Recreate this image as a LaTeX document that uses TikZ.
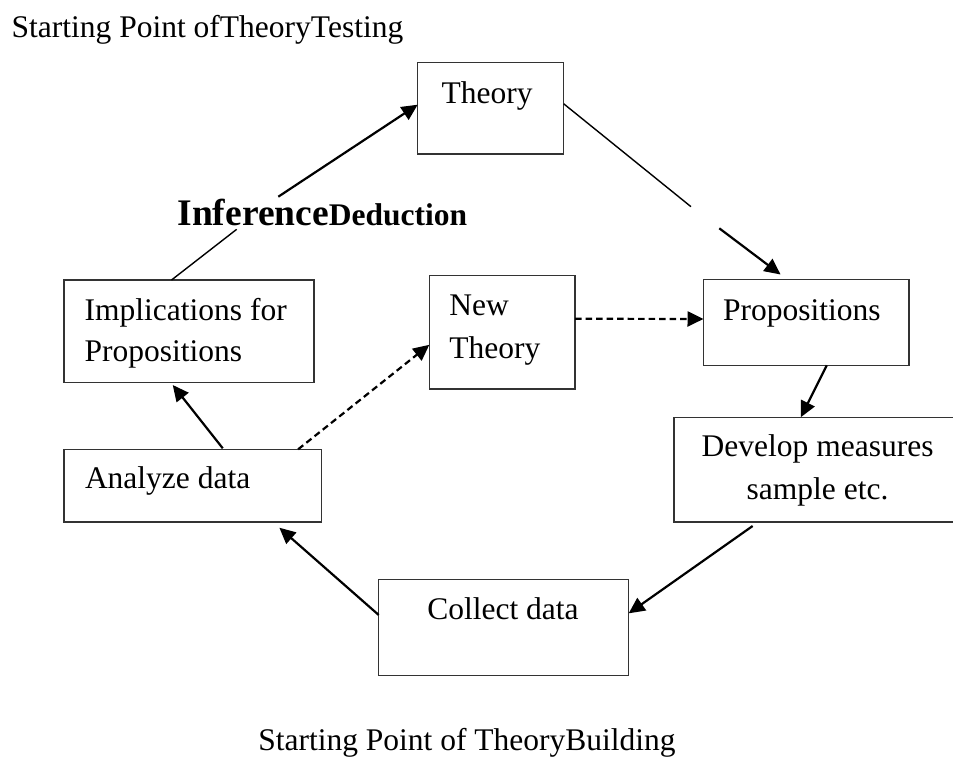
\documentclass[tikz,border=0pt]{standalone}
\usepackage{fontspec}
\setmainfont{Liberation Serif}
\usetikzlibrary{arrows.meta,calc}

\tikzset{
  box/.style={draw=black!80, line width=1.1pt, anchor=north west, inner sep=0pt, outer sep=0pt},
  txt/.style={anchor=base west, inner sep=0pt, outer sep=0pt, font=\fontsize{31.5}{36}\selectfont},
  flow/.style={line width=2.2pt, -{Triangle[length=16pt,width=15pt]}},
  alt/.style={flow, dash pattern=on 6.5pt off 4pt},
  plain/.style={line width=1.4pt}
}

\begin{document}
\begin{tikzpicture}[x=1pt,y=-1pt]
  \useasboundingbox (0,0) rectangle (953,758);
  \fill[white] (0,0) rectangle (953,758);
  \clip (0,0) rectangle (953,758);

  % boxes
  \node[box, minimum width=146pt,   minimum height=91.3pt]  (theory)  at (417.7,62.7)  {};
  \node[box, minimum width=205.5pt, minimum height=85.8pt]  (props)   at (703.5,279.5) {};
  \node[box, minimum width=288pt,   minimum height=104.7pt] (develop) at (674,417.3)   {};
  \node[box, minimum width=250pt,   minimum height=96.4pt]  (collect) at (378.7,579.3) {};
  \node[box, minimum width=257.3pt, minimum height=72.7pt]  (analyze) at (64,449.3)    {};
  \node[box, minimum width=250pt,   minimum height=102.3pt] (impl)    at (64,280)      {};
  \node[box, minimum width=145.7pt, minimum height=113.3pt] (newth)   at (429.3,275.7) {};

  % box texts
  \node[txt] (theory-t)   at (441.7,103.3) {Theory};
  \node[txt] (props-t)    at (723,320)     {Propositions};
  \node[txt] (develop-t1) at (701.7,456)   {Develop measures};
  \node[txt] (develop-t2) at (746.7,499.3) {sample etc.};
  \node[txt] (collect-t)  at (427.3,619)   {Collect data};
  \node[txt] (analyze-t)  at (85,488.3)    {Analyze data};
  \node[txt] (impl-t1)    at (84.7,320)    {Implications for};
  \node[txt] (impl-t2)    at (84.7,361)    {Propositions};
  \node[txt] (newth-t1)   at (449.3,315)   {New};
  \node[txt] (newth-t2)   at (449.3,358.3) {Theory};

  % free labels
  \node[txt] (top-label) at (11.7,37)    {Starting Point ofTheoryTesting};
  \node[txt] (bot-label) at (258.3,750.5) {Starting Point of TheoryBuilding};
  \node[anchor=base west, inner sep=0pt] (infer) at (177.3,225)
    {\fontsize{37.5}{40}\selectfont\bfseries Inference\fontsize{31.5}{36}\selectfont Deduction};

  % break points of the two long connectors
  \coordinate (inf-lo) at (236.7,229.3);
  \coordinate (inf-hi) at (278.3,196.7);
  \coordinate (gap-a)  at (691,206.7);
  \coordinate (gap-b)  at (719.3,228.3);

  % implications -> theory, interrupted by the label
  \draw[plain] ($(impl.north west)!0.43!(impl.north east)$) -- (inf-lo);
  \draw[flow] (inf-hi) -- ($(theory.north west)!0.46!(theory.south west)$);

  % theory -> propositions, interrupted
  \draw[plain] ($(theory.north east)!0.45!(theory.south east)$) -- (gap-a);
  \draw[flow] (gap-b) -- ($(props.north west)!0.375!(props.north east)+(0,-5)$);

  % main cycle
  \draw[flow] ($(props.south west)!0.6!(props.south east)$)
           -- ($(develop.north west)!0.44!(develop.north east)$);
  \draw[flow] ($(develop.south west)!0.273!(develop.south east)+(0,4)$)
           -- ($(collect.north east)!0.353!(collect.south east)$);
  \draw[flow] ($(collect.north west)!0.37!(collect.south west)$)
           -- ($(analyze.south west)!0.837!(analyze.south east)+(0,5.7)$);
  \draw[flow] ($(analyze.north west)!0.617!(analyze.north east)+(0,-1)$)
           -- ($(impl.south west)!0.435!(impl.south east)+(0,2.7)$);

  % new theory branch
  \draw[alt] ($(analyze.north west)!0.91!(analyze.north east)$)
          -- ($(newth.north west)!0.61!(newth.south west)$);
  \draw[alt] ($(newth.north east)!0.38!(newth.south east)$)
          -- ($(props.north west)!0.46!(props.south west)$);
\end{tikzpicture}
\end{document}
